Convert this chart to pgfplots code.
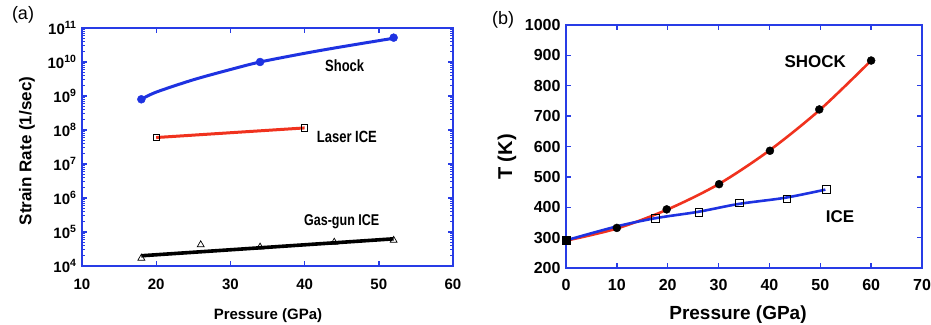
\documentclass[border=0pt]{standalone}
\usepackage{pgfplots}
\pgfplotsset{compat=1.18}
\usepackage{fontspec}
\setmainfont{Liberation Sans}
\definecolor{axblue}{RGB}{40,60,230}
\definecolor{lnblue}{RGB}{30,50,225}
\definecolor{lnred}{RGB}{240,50,30}
\begin{document}
\begin{tikzpicture}
\path[use as bounding box] (0,0) rectangle (931pt,324pt);
% ---------------- panel (a)
\begin{axis}[
  scale only axis, width=371pt, height=238pt,
  at={(82pt,58pt)}, anchor=south west,
  xmin=10, xmax=60, ymode=log, ymin=1e4, ymax=1e11,
  axis line style={axblue, line width=2.6pt},
  tick style={axblue, line width=1.4pt},
  major tick length=5pt, minor tick length=3pt,
  tick align=inside,
  xtick={10,20,30,40,50,60},
  ytick={1e4,1e5,1e6,1e7,1e8,1e9,1e10,1e11},
  yticklabels={10\textsuperscript{4},10\textsuperscript{5},10\textsuperscript{6},10\textsuperscript{7},10\textsuperscript{8},10\textsuperscript{9},10\textsuperscript{10},10\textsuperscript{11}},
  ticklabel style={font=\fontsize{15}{15}\selectfont\bfseries},
  xticklabel style={yshift=-9pt},
  yticklabel style={xshift=-2pt},
  /pgf/number format/assume math mode=true,
  clip=false,
]
\addplot[lnblue, line width=3pt, smooth] coordinates {
 (18,8e8) (20,1.3e9) (25,3e9) (30,6e9) (34,1e10) (40,1.8e10) (45,2.8e10) (52,5e10)};
\addplot[only marks, mark=*, mark size=4pt, lnblue] coordinates {(18,8e8) (34,1e10) (52,5.2e10)};
\addplot[lnred, line width=3pt] coordinates {(20,6e7) (40,1.15e8)};
\addplot[only marks, mark=square, mark size=3.2pt, black, mark options={line width=0.8pt, fill=white}] coordinates {(20,6e7) (40,1.15e8)};
\addplot[black, line width=3.6pt] coordinates {(18,2e4) (52,6.3e4)};
\addplot[only marks, mark=triangle, mark size=4pt, black, mark options={line width=0.7pt, fill=white}] coordinates {(18,1.7e4) (26,4.2e4) (34,3.6e4) (44,5e4) (52,5.7e4)};
\node[font=\fontsize{13}{13}\selectfont\bfseries, yscale=1.25] at (axis cs:45.4,7.6e9) {Shock};
\node[font=\fontsize{13}{13}\selectfont\bfseries, yscale=1.25] at (axis cs:45.7,6.3e7) {Laser ICE};
\node[font=\fontsize{12.5}{13}\selectfont\bfseries, yscale=1.25] at (axis cs:45.0,2e5) {Gas-gun ICE};
\end{axis}
\node[font=\fontsize{18}{18}\selectfont] at (23pt,309pt) {(a)};
\node[font=\fontsize{17}{17}\selectfont\bfseries, rotate=90] at (27pt,173pt) {Strain Rate (1/sec)};
\node[font=\fontsize{15}{15}\selectfont\bfseries, anchor=base, inner sep=0pt] at (268pt,4.5pt) {Pressure (GPa)};
% ---------------- panel (b)
\begin{axis}[
  scale only axis, width=356pt, height=243pt,
  at={(566pt,56pt)}, anchor=south west,
  xmin=0, xmax=70, ymin=200, ymax=1000,
  axis line style={axblue, line width=2.6pt},
  tick style={axblue, line width=1.4pt},
  major tick length=5pt,
  tick align=inside,
  xtick={0,10,...,70},
  ytick={200,300,...,1000},
  ticklabel style={font=\fontsize{16}{16}\selectfont\bfseries},
  xticklabel style={yshift=-8pt},
  yticklabel style={xshift=-2pt},
  /pgf/number format/assume math mode=true,
  /pgf/number format/set thousands separator={},
  clip=false,
]
\addplot[lnred, line width=2.6pt, smooth] coordinates {
 (0,290) (10,330) (20,393) (30,476) (40,587) (50,722) (60,883)};
\addplot[lnblue, line width=2.6pt, smooth] coordinates {
 (0,291) (10,337) (17.6,364) (26,385) (34,411) (43,431) (51,458)};
\addplot[only marks, mark=*, mark size=4pt, black] coordinates {
 (10,332) (19.8,393) (30.1,476) (40.1,586) (49.8,722) (60,883)};
\addplot[only marks, mark=square, mark size=3.8pt, black, mark options={line width=0.7pt, fill=white}] coordinates {
 (17.6,364) (26.1,384) (34.1,415) (43.4,428) (51.2,459)};
\addplot[only marks, mark=square*, mark size=4pt, black] coordinates {(0,290)};
\node[font=\fontsize{17}{17}\selectfont\bfseries] at (axis cs:49,878) {SHOCK};
\node[font=\fontsize{17}{17}\selectfont\bfseries] at (axis cs:53.9,368) {ICE};
\end{axis}
\node[font=\fontsize{18}{18}\selectfont] at (503pt,304pt) {(b)};
\node[font=\fontsize{20}{20}\selectfont\bfseries, rotate=90] at (507pt,167pt) {T (K)};
\node[font=\fontsize{19}{19}\selectfont\bfseries, anchor=base] at (738pt,5pt) {Pressure (GPa)};
\end{tikzpicture}
\end{document}
